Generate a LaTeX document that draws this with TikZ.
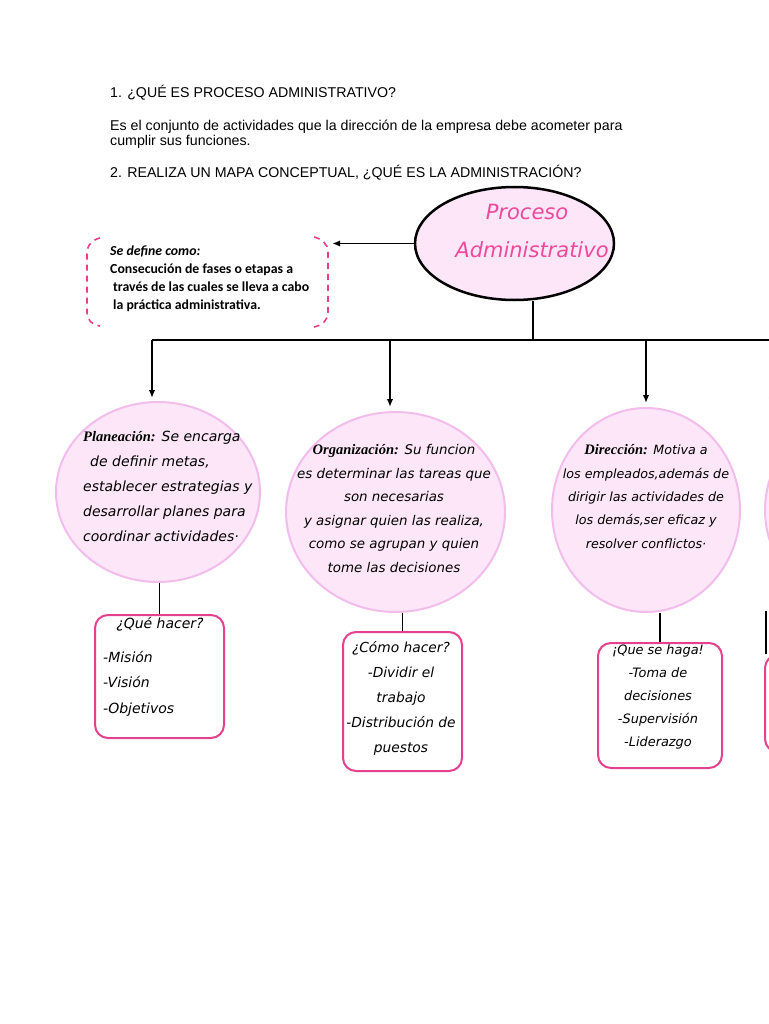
\documentclass[tikz,border=0pt]{standalone}
\usepackage{fontspec}
\setmainfont{Liberation Sans}
\newfontfamily\hand{DejaVu Sans}[ItalicFont={DejaVu Sans Oblique}]
\newfontfamily\labf{Liberation Serif}
\newfontfamily\carl{Carlito}
\usetikzlibrary{shapes.geometric,arrows.meta}
\definecolor{cfill}{HTML}{FCE6F8}
\definecolor{cedge}{HTML}{F3BDEB}
\definecolor{bedge}{HTML}{E5418F}
\definecolor{ptitle}{HTML}{EC4A9A}
\definecolor{pdash}{HTML}{E83E8C}
\newcommand{\lab}[1]{{\labf\bfseries\itshape\fontsize{14.5}{16}\selectfont #1}}
\begin{document}
\begin{tikzpicture}[x=1pt,y=-1pt,
  oval/.style={ellipse,draw=cedge,line width=2pt,fill=cfill,inner sep=0pt},
  card/.style={rectangle,rounded corners=13pt,draw=bedge,line width=2pt,fill=white,inner sep=0pt},
  conn/.style={line width=1.8pt,black},
  arr/.style={conn,-{Latex[length=8pt,width=6.5pt]}},
  head/.style={anchor=base west,inner sep=0pt,font=\fontsize{14.2}{16}\selectfont},
  txt/.style={inner sep=0pt,anchor=base},
  brk/.style={draw=pdash,line width=1.6pt,dash pattern=on 6pt off 5pt},
  ]
\useasboundingbox (0,0) rectangle (768,1024);
\fill[white] (0,0) rectangle (768,1024);

% header
\node[head] (h1) at (110,98) {1. ¿QUÉ ES PROCESO ADMINISTRATIVO?};
\node[head] (h2) at (110,131) {Es el conjunto de actividades que la dirección de la empresa debe acometer para};
\node[head] (h3) at (110,146) {cumplir sus funciones.};
\node[head] (h4) at (110,178) {2. REALIZA UN MAPA CONCEPTUAL, ¿QUÉ ES LA ADMINISTRACIÓN?};

% main ellipse
\node[ellipse,draw=black,line width=2.5pt,fill=cfill,minimum width=199,minimum height=113,inner sep=0pt] (proc) at (514.5,243.5) {};
\node[txt,font=\hand\itshape\fontsize{21}{24}\selectfont,text=ptitle] (pt1) at (527,220) {Proceso};
\node[txt,font=\hand\itshape\fontsize{21}{24}\selectfont,text=ptitle] (pt2) at (532,258) {Administrativo};

% definition box
\node[minimum width=241,minimum height=89,inner sep=0pt] (defbox) at (207.5,281.5) {};
\draw[brk] (100,238) .. controls (92,240) and (87,245) .. (87,254) -- (87,312) .. controls (87,320) and (92,325) .. (100,326);
\draw[brk] (314,237) .. controls (322,239) and (328,244) .. (328,252) -- (328,312) .. controls (328,320) and (323,325) .. (314,327);
\node[inner sep=0pt,anchor=base west,align=left,font=\carl\bfseries\fontsize{13.8}{18}\selectfont] (deftxt) at (110,309)
  {\itshape Se define como:\\Consecución de fases o etapas a\\\hspace{3pt}través de las cuales se lleva a cabo\\\hspace{3pt}la práctica administrativa.};
\draw[arr,shorten >=4pt] (proc.west) -- (defbox.east |- proc.west);

% tree connectors
\coordinate (jn) at (533,340);
\coordinate (bl) at (152,340);
\coordinate (b2) at (390,340);
\coordinate (b3) at (646,340);
\coordinate (b4) at (772,340);
\coordinate (br) at (775,340);

% circles
\node[oval,minimum width=204,minimum height=180] (c1) at (158,492) {};
\node[oval,minimum width=219,minimum height=200] (c2) at (395.5,512) {};
\node[oval,minimum width=188,minimum height=204] (c3) at (646,510) {};
\node[oval,minimum width=200,minimum height=200] (c4) at (865,510) {};

\draw[conn] (jn |- proc.south) -- (jn);
\draw[conn] (bl) -- (br);
\draw[arr,shorten >=3pt] (bl) -- (bl |- c1.north);
\draw[arr,shorten >=4pt] (b2) -- (b2 |- c2.north);
\draw[arr,shorten >=4pt] (b3) -- (b3 |- c3.north);
\draw[arr,shorten >=4pt] (b4) -- (b4 |- c4.north);

% circle texts (anchor base = baseline of last line)
\node[txt,anchor=base west,align=left,font=\hand\itshape\fontsize{14}{25}\selectfont] (t1) at (83,541)
  {\lab{Planeación:} Se encarga\\\hspace{7pt}de definir metas,\\establecer estrategias y\\desarrollar planes para\\coordinar actividades·};
\node[txt,align=center,font=\hand\itshape\fontsize{13.4}{23.5}\selectfont] (t2) at (394,572)
  {\lab{Organización:} Su funcion\\es determinar las tareas que\\son necesarias\\y asignar quien las realiza,\\como se agrupan y quien\\tome las decisiones};
\node[txt,align=center,font=\hand\itshape\fontsize{12.7}{23.3}\selectfont] (t3) at (646,548)
  {\lab{Dirección:} Motiva a\\los empleados,además de\\dirigir las actividades de\\los demás,ser eficaz y\\resolver conflictos·};

% boxes
\node[card,minimum width=129,minimum height=123] (k1) at (159.5,676.5) {};
\node[card,minimum width=119,minimum height=139] (k2) at (402.5,701.5) {};
\node[card,minimum width=124,minimum height=125] (k3) at (660,705.5) {};
\node[card,minimum width=120,minimum height=97] (k4) at (825,703.5) {};

\draw[conn] (k1.north) -- (k1.north |- c1.south);
\draw[conn] (k2.north) -- (k2.north |- c2.south);
\draw[conn] (k3.north) -- (k3.north |- c3.south);
\draw[conn] ([xshift=2pt]k4.north west) -- ([xshift=2pt]k4.north west |- c4.south);

% box texts
\node[txt,font=\hand\itshape\fontsize{14}{25}\selectfont] (q1) at (160,628) {¿Qué hacer?};
\node[txt,anchor=base west,align=left,font=\hand\itshape\fontsize{14}{25.5}\selectfont] (l1) at (103,713)
  {-Misión\\-Visión\\-Objetivos};
\node[txt,align=center,font=\hand\itshape\fontsize{13.8}{25}\selectfont] (l2) at (401,752)
  {¿Cómo hacer?\\-Dividir el\\trabajo\\-Distribución de\\puestos};
\node[txt,align=center,font=\hand\itshape\fontsize{12.9}{23}\selectfont] (l3) at (658,746)
  {¡Que se haga!\\-Toma de\\decisiones\\-Supervisión\\-Liderazgo};
\end{tikzpicture}
\end{document}
